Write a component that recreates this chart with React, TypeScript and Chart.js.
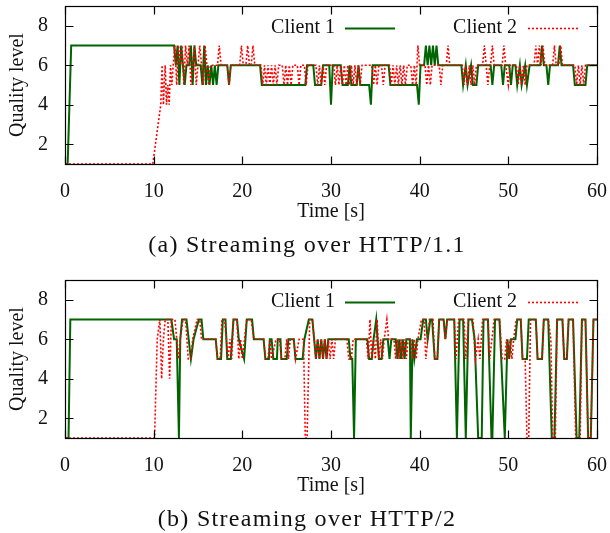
import React, { useEffect, useRef } from "react";
import { Chart, registerables } from "chart.js";

Chart.register(...registerables);

// ---------- data ----------
const xTicks = [0, 10, 20, 30, 40, 50, 60];
const yTicks = [2, 4, 6, 8];
const seriesLabels = ["Client 1", "Client 2"];
const xTitle = "Time [s]";
const yTitle = "Quality level";
const captions = ["(a) Streaming over HTTP/1.1", "(b) Streaming over HTTP/2"];

// [time (s), quality level]
const http11Client1: [number, number][] = [
  [0, 1], [0.3, 1], [0.7, 7], [12.3, 7], [12.5, 6], [12.7, 7], [12.9, 5], [13.1, 7], [13.3, 6], [13.5, 5],
  [13.7, 6], [14.0, 6], [14.2, 7], [14.4, 5], [14.6, 7], [14.8, 6], [15.3, 6], [15.5, 5], [15.7, 7], [15.9, 5],
  [16.1, 6], [16.3, 5], [16.5, 6], [16.7, 5], [16.9, 6], [17.1, 5], [17.3, 6], [18.3, 6], [18.5, 5], [18.7, 6],
  [22.0, 6], [22.2, 5], [27.1, 5], [27.3, 6], [28.0, 6], [28.2, 5], [28.9, 5], [29.1, 6], [29.8, 6], [30.0, 4],
  [30.2, 6], [31.1, 6], [31.3, 5], [31.9, 5], [32.1, 6], [32.3, 5], [32.9, 5], [33.1, 6], [33.3, 5], [34.3, 5],
  [34.5, 4], [34.7, 6], [36.5, 6], [36.7, 5], [39.7, 5], [39.9, 4], [40.1, 6], [40.5, 6], [40.7, 7], [40.9, 6],
  [41.1, 7], [41.3, 6], [41.5, 7], [41.7, 6], [41.9, 7], [42.1, 6], [44.7, 6], [44.9, 5], [45.2, 6], [45.4, 5],
  [45.8, 6], [46.0, 5], [46.4, 5], [46.6, 6], [48.0, 6], [48.2, 5], [48.4, 6], [49.2, 6], [49.4, 5], [49.6, 6],
  [50.1, 6], [50.3, 5], [50.5, 6], [50.8, 6], [51.0, 5], [51.3, 6], [51.5, 5], [51.9, 6], [52.1, 5], [52.4, 6],
  [53.6, 6], [53.8, 7], [54.0, 6], [54.3, 6], [54.5, 5], [54.7, 6], [55.6, 6], [55.8, 7], [56.0, 6], [57.3, 6],
  [57.5, 5], [58.7, 5], [58.9, 6], [60, 6],
];

const http11Client2: [number, number][] = [
  [0, 1], [9.9, 1], [10.2, 2], [10.8, 4], [10.95, 6], [11.1, 4], [11.3, 6], [11.45, 4], [11.6, 5], [11.75, 4],
  [11.9, 6], [12.05, 5], [12.2, 6], [12.4, 7], [12.6, 5], [12.8, 7], [13.0, 6], [13.2, 7], [13.4, 5], [13.6, 7],
  [13.8, 6], [14.0, 7], [14.2, 5], [14.4, 6], [14.6, 7], [14.8, 5], [15.0, 6], [15.2, 7], [15.4, 6], [15.6, 5],
  [15.8, 7], [16.0, 6], [16.2, 5], [16.4, 6], [17.2, 6], [17.4, 7], [17.6, 6], [18.3, 6], [18.5, 5], [18.7, 6],
  [19.7, 6], [19.9, 7], [20.1, 6], [20.4, 6], [20.6, 7], [20.8, 6], [21.0, 6], [21.2, 7], [21.4, 6], [22.1, 6],
  [22.3, 5], [22.5, 6], [22.7, 5], [22.9, 6], [23.1, 5], [23.3, 6], [23.5, 5], [23.7, 6], [23.9, 5], [24.1, 6],
  [24.5, 6], [24.7, 5], [24.9, 6], [25.1, 5], [25.3, 6], [25.5, 5], [25.7, 6], [26.2, 6], [26.4, 5], [26.6, 6],
  [27.0, 6], [27.2, 5], [27.4, 6], [28.3, 6], [28.5, 5], [28.7, 6], [28.9, 5], [29.1, 6], [29.3, 5], [29.5, 6],
  [30.3, 6], [30.5, 5], [30.7, 6], [30.9, 5], [31.1, 6], [31.3, 5], [31.5, 6], [31.7, 5], [31.9, 6], [32.1, 5],
  [32.3, 6], [32.5, 5], [32.7, 6], [32.9, 5], [33.1, 6], [33.3, 5], [33.5, 6], [34.6, 6], [34.8, 5], [35.0, 6],
  [35.2, 5], [35.4, 6], [35.7, 6], [35.9, 5], [36.1, 6], [36.6, 6], [36.8, 5], [37.0, 6], [37.2, 5], [37.4, 6],
  [37.6, 5], [37.8, 6], [38.0, 5], [38.2, 6], [38.4, 5], [38.6, 6], [39.0, 6], [39.2, 5], [39.4, 6], [39.6, 5],
  [39.8, 7], [40.0, 6], [40.6, 6], [40.8, 5], [41.0, 6], [41.2, 5], [41.4, 6], [42.2, 6], [42.4, 5], [42.6, 6],
  [43.0, 6], [43.2, 7], [43.4, 6], [44.8, 6], [45.0, 5], [45.2, 6], [45.4, 5], [45.6, 6], [45.8, 5], [46.0, 6],
  [46.2, 5], [46.4, 6], [47.1, 6], [47.3, 7], [47.5, 6], [47.7, 5], [47.9, 6], [48.0, 6], [48.2, 7], [48.4, 6],
  [49.3, 6], [49.5, 7], [49.7, 6], [50.0, 5], [50.2, 6], [50.9, 6], [51.1, 5], [51.3, 6], [51.5, 5], [51.7, 6],
  [51.9, 5], [52.1, 6], [52.9, 6], [53.1, 7], [53.3, 6], [53.5, 7], [53.7, 6], [53.9, 7], [54.1, 6], [55.0, 6],
  [55.2, 7], [55.4, 6], [55.7, 6], [55.9, 7], [56.1, 6], [57.5, 6], [57.7, 5], [57.9, 6], [58.1, 5], [58.3, 6],
  [58.5, 5], [58.7, 6], [60, 6],
];

const http2Client1: [number, number][] = [
  [0, 1], [0.4, 1], [0.6, 7], [12.0, 7], [12.3, 6], [12.6, 6], [12.85, 1], [13.0, 6], [13.2, 7], [13.7, 7],
  [14.2, 5], [14.5, 6], [15.1, 7], [15.4, 7], [15.6, 6], [17.0, 6], [17.2, 5], [17.6, 5], [17.8, 7], [18.1, 7],
  [18.3, 5], [18.7, 5], [19.0, 7], [19.4, 7], [19.6, 6], [20.2, 5], [20.5, 7], [21.1, 7], [21.3, 6], [22.4, 6],
  [22.6, 5], [23.0, 5], [23.1, 6], [23.3, 6], [23.5, 5], [23.9, 5], [24.0, 6], [24.3, 6], [24.4, 5], [25.0, 5],
  [25.2, 6], [25.8, 6], [26.0, 5], [26.8, 5], [27.0, 6], [27.5, 7], [27.9, 7], [28.1, 6], [28.3, 5], [28.5, 6],
  [28.7, 5], [28.9, 6], [29.1, 5], [29.3, 6], [29.5, 5], [29.7, 6], [32.0, 6], [32.2, 5], [32.4, 5], [32.6, 1],
  [32.8, 6], [34.1, 6], [34.3, 5], [34.6, 5], [34.8, 6], [35.1, 7], [35.4, 5], [35.7, 5], [35.9, 6], [36.4, 6],
  [36.6, 5], [36.8, 6], [37.3, 6], [37.5, 5], [37.7, 6], [37.9, 5], [38.1, 6], [38.3, 5], [38.5, 6], [38.9, 6],
  [39.0, 1], [39.2, 6], [39.4, 5], [39.7, 6], [40.1, 6], [40.4, 7], [40.7, 7], [40.9, 6], [41.2, 7], [41.4, 7],
  [41.7, 5], [42.0, 5], [42.2, 7], [42.7, 7], [42.9, 6], [43.1, 7], [43.9, 7], [44.2, 1], [44.5, 7], [44.9, 7],
  [45.2, 1], [45.5, 7], [45.9, 7], [46.2, 6], [46.6, 1], [47.0, 1], [47.2, 7], [47.7, 7], [48.1, 1], [48.2, 1],
  [48.5, 7], [49.0, 7], [49.6, 1], [49.9, 6], [50.1, 5], [50.3, 6], [50.8, 6], [51.0, 7], [51.4, 7], [51.6, 5],
  [52.1, 5], [52.3, 7], [53.1, 7], [53.3, 5], [53.8, 5], [54.0, 7], [54.5, 7], [54.9, 1], [55.2, 1], [55.5, 7],
  [56.1, 7], [56.3, 5], [56.6, 5], [56.8, 7], [57.3, 7], [57.7, 1], [58.0, 1], [58.3, 7], [58.7, 7], [59.0, 1],
  [59.3, 1], [59.6, 7], [60, 7],
];

const http2Client2: [number, number][] = [
  [0, 1], [9.9, 1], [10.1, 1], [10.4, 6], [10.7, 7], [10.9, 4], [11.1, 6], [11.3, 7], [11.6, 7], [11.8, 4],
  [12.0, 7], [12.4, 7], [12.6, 6], [12.8, 5], [13.0, 6], [13.3, 7], [13.6, 7], [13.9, 5], [14.2, 5], [14.4, 6],
  [14.9, 7], [15.2, 7], [15.4, 6], [17.0, 6], [17.2, 5], [17.5, 5], [17.7, 7], [18.0, 7], [18.2, 6], [18.4, 5],
  [18.6, 6], [18.8, 5], [19.0, 7], [19.4, 7], [19.6, 5], [19.8, 6], [20.0, 5], [20.5, 7], [21.0, 7], [21.3, 6],
  [22.4, 6], [22.6, 5], [22.9, 5], [23.1, 6], [23.3, 5], [23.8, 6], [24.2, 6], [24.4, 5], [24.8, 5], [25.0, 6],
  [25.2, 5], [25.4, 6], [25.8, 6], [26.0, 5], [26.4, 6], [26.9, 6], [27.1, 1], [27.3, 1], [27.6, 7], [27.9, 7],
  [28.1, 6], [28.3, 5], [28.5, 6], [28.7, 5], [28.9, 6], [29.1, 5], [29.3, 6], [29.5, 5], [29.7, 6], [29.9, 5],
  [30.1, 6], [30.3, 5], [30.5, 6], [31.8, 6], [32.0, 5], [32.3, 5], [32.5, 6], [34.0, 6], [34.2, 5], [34.4, 7],
  [34.6, 5], [34.8, 6], [35.0, 5], [35.2, 7], [35.4, 5], [35.6, 6], [35.8, 5], [36.0, 6], [36.3, 7], [36.5, 6],
  [37.1, 6], [37.3, 5], [37.5, 6], [37.7, 5], [37.9, 6], [38.1, 5], [38.3, 6], [38.5, 5], [38.7, 6], [39.0, 6],
  [39.2, 5], [39.4, 6], [39.6, 5], [39.8, 6], [40.2, 7], [40.5, 7], [40.7, 5], [40.9, 6], [41.1, 7], [41.5, 7],
  [41.7, 5], [42.0, 5], [42.2, 7], [42.7, 7], [42.9, 6], [43.1, 7], [43.9, 7], [44.1, 5], [44.4, 7], [45.0, 7],
  [45.2, 5], [45.5, 7], [46.0, 7], [46.3, 5], [46.6, 6], [46.8, 5], [47.1, 7], [47.7, 7], [47.9, 5], [48.4, 7],
  [49.0, 7], [49.3, 5], [49.6, 5], [49.8, 6], [50.0, 5], [50.2, 6], [50.4, 5], [50.6, 6], [50.9, 7], [51.4, 7],
  [51.6, 5], [51.9, 5], [52.1, 1], [52.3, 1], [52.5, 7], [53.1, 7], [53.3, 5], [53.8, 5], [54.0, 7], [54.5, 7],
  [54.8, 6], [55.0, 1], [55.3, 1], [55.5, 7], [56.1, 7], [56.3, 5], [56.6, 5], [56.8, 7], [57.3, 7], [57.6, 1],
  [58.1, 1], [58.3, 7], [58.7, 7], [59.0, 1], [59.3, 1], [59.6, 7], [60, 7],
];

// ---------- styling ----------
const FONT_FAMILY = "'Liberation Serif', 'Times New Roman', serif";
const TEXT_COLOR = "#111";
const GREEN = "#006400";
const RED = "#ff0000";

const framePlugin = {
  id: "gnuFrame",
  afterDraw(chart: any) {
    const { ctx, chartArea: a, scales } = chart;
    ctx.save();
    ctx.strokeStyle = "#000";
    ctx.lineWidth = 1.2;
    const L = Math.round(a.left) + 0.5;
    const R = Math.round(a.right) + 0.5;
    const T = Math.round(a.top) + 0.5;
    const B = Math.round(a.bottom) + 0.5;
    ctx.strokeRect(L, T, R - L, B - T);
    const len = 8;
    ctx.beginPath();
    for (const v of xTicks) {
      const x = Math.round(scales.x.getPixelForValue(v)) + 0.5;
      ctx.moveTo(x, B);
      ctx.lineTo(x, B - len);
      ctx.moveTo(x, T);
      ctx.lineTo(x, T + len);
    }
    for (const v of yTicks) {
      const y = Math.round(scales.y.getPixelForValue(v)) + 0.5;
      ctx.moveTo(L, y);
      ctx.lineTo(L + len, y);
      ctx.moveTo(R, y);
      ctx.lineTo(R - len, y);
    }
    ctx.stroke();

    // key inside the plot: text, then line sample
    const keyTextRight = [270, 452];
    const sampleStart = [280, 463];
    const sampleLen = 50;
    ctx.font = `20px ${FONT_FAMILY}`;
    ctx.fillStyle = TEXT_COLOR;
    ctx.textAlign = "right";
    ctx.textBaseline = "alphabetic";
    chart.data.datasets.forEach((ds: any, i: number) => {
      ctx.fillText(ds.label, a.left + keyTextRight[i], a.top + 27);
      ctx.beginPath();
      ctx.strokeStyle = ds.borderColor;
      ctx.lineWidth = ds.borderWidth;
      ctx.setLineDash(ds.borderDash || []);
      ctx.moveTo(a.left + sampleStart[i], a.top + 22.5);
      ctx.lineTo(a.left + sampleStart[i] + sampleLen, a.top + 22.5);
      ctx.stroke();
      ctx.setLineDash([]);
    });
    ctx.restore();
  },
};

function QualityChart({ c1, c2 }: { c1: [number, number][]; c2: [number, number][] }) {
  const ref = useRef<HTMLCanvasElement>(null);
  useEffect(() => {
    const font = { family: FONT_FAMILY, size: 20 };
    const chart = new Chart(ref.current as HTMLCanvasElement, {
      type: "line",
      data: {
        datasets: [
          {
            label: seriesLabels[0],
            data: c1.map(([x, y]) => ({ x, y })),
            borderColor: GREEN,
            borderWidth: 2,
            pointRadius: 0,
            tension: 0,
            order: 2,
          },
          {
            label: seriesLabels[1],
            data: c2.map(([x, y]) => ({ x, y })),
            borderColor: RED,
            borderWidth: 1.6,
            borderDash: [2, 2],
            pointRadius: 0,
            tension: 0,
            order: 1,
          },
        ],
      },
      options: {
        responsive: false,
        animation: false,
        layout: { padding: { left: 0, right: 13, top: 6, bottom: 0 } },
        plugins: { legend: { display: false }, tooltip: { enabled: false } },
        scales: {
          x: {
            type: "linear",
            min: 0,
            max: 60,
            afterBuildTicks: (axis: any) => {
              axis.ticks = xTicks.map((v) => ({ value: v }));
            },
            ticks: { font, color: TEXT_COLOR, padding: 8, maxRotation: 0, autoSkip: false },
            grid: { display: false },
            border: { display: false },
            title: { display: true, text: xTitle, font, color: TEXT_COLOR, padding: { top: 0, bottom: 10 } },
            afterFit: (s: any) => {
              s.height = 70;
              s.paddingLeft = 0;
              s.paddingRight = 0;
            },
          },
          y: {
            type: "linear",
            min: 1,
            max: 9,
            afterBuildTicks: (axis: any) => {
              axis.ticks = yTicks.map((v) => ({ value: v }));
            },
            ticks: { font, color: TEXT_COLOR, padding: 9 },
            grid: { display: false },
            border: { display: false },
            title: { display: true, text: yTitle, font, color: TEXT_COLOR, padding: { top: 6, bottom: 0 } },
            afterFit: (s: any) => {
              s.width = 65;
              s.paddingTop = 0;
              s.paddingBottom = 0;
            },
          },
        },
      } as any,
      plugins: [framePlugin],
    });
    return () => chart.destroy();
  }, []);
  return <canvas ref={ref} width={610} height={234} style={{ display: "block", width: 610, height: 234 }} />;
}

const captionStyle: React.CSSProperties = {
  position: "absolute",
  left: 0,
  width: 614,
  textAlign: "center",
  fontFamily: FONT_FAMILY,
  fontSize: 24,
  letterSpacing: "1.3px",
  lineHeight: "28px",
  color: TEXT_COLOR,
  whiteSpace: "nowrap",
};

export default function App() {
  return (
    <div style={{ position: "absolute", left: 0, top: 0, width: 610, height: 533, overflow: "hidden", background: "#fff" }}>
      <div style={{ position: "absolute", left: 0, top: 0 }}>
        <QualityChart c1={http11Client1} c2={http11Client2} />
      </div>
      <div style={{ ...captionStyle, top: 230 }}>{captions[0]}</div>
      <div style={{ position: "absolute", left: 0, top: 274 }}>
        <QualityChart c1={http2Client1} c2={http2Client2} />
      </div>
      <div style={{ ...captionStyle, top: 504 }}>{captions[1]}</div>
    </div>
  );
}
